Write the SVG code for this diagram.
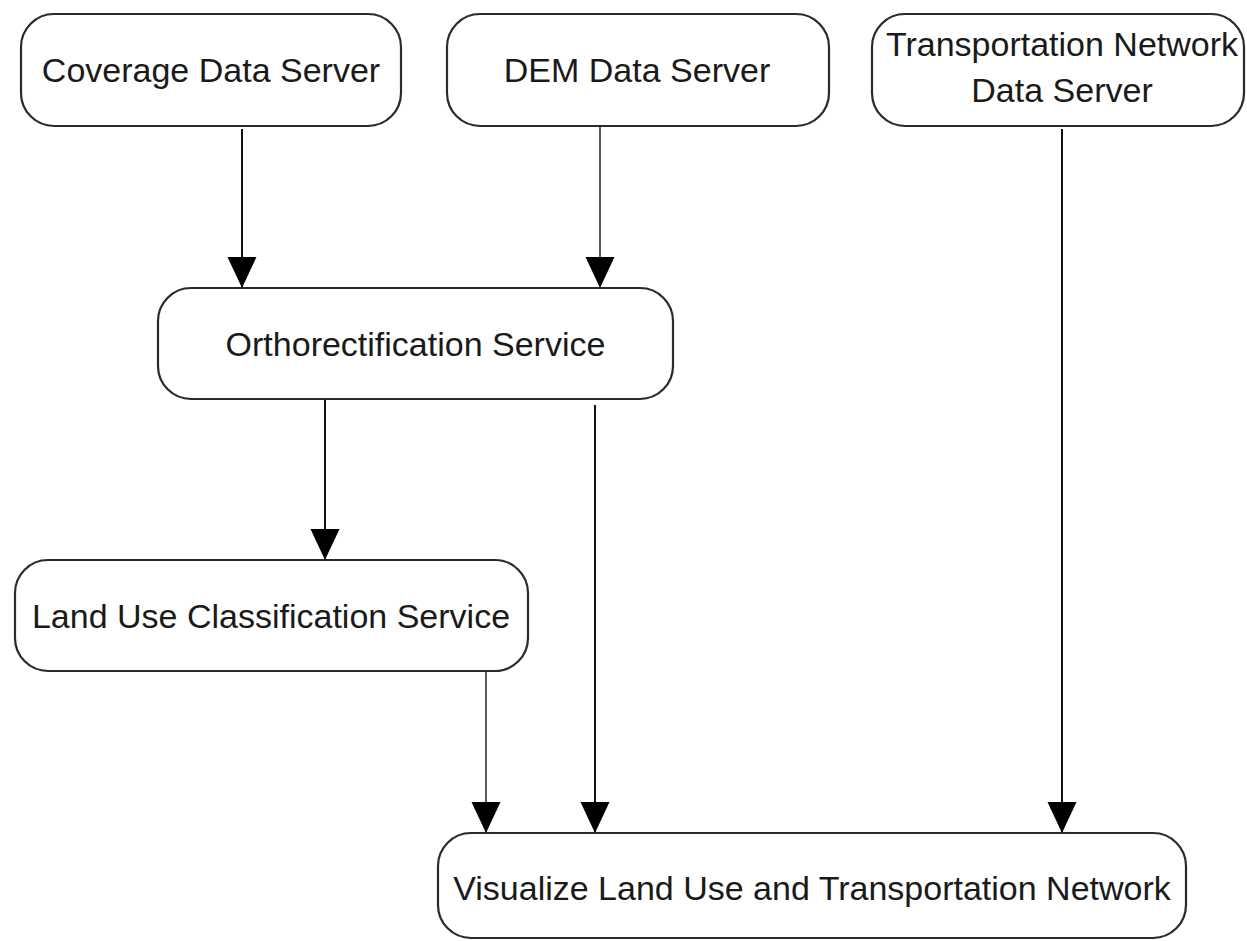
<svg xmlns="http://www.w3.org/2000/svg" width="1247" height="941" viewBox="0 0 1247 941">
  <style>
    .box { fill: #ffffff; stroke: #2a2a2a; stroke-width: 2.2; }
    .label { font-family: "Liberation Sans", Arial, Helvetica, sans-serif; font-size: 34px; fill: #1a1a1a; text-anchor: middle; }
    .flow { stroke: #111111; stroke-width: 2; fill: none; marker-end: url(#head); }
    .flow.thin { stroke: #333333; stroke-width: 1.6; }
  </style>
  <defs>
    <marker id="head" markerUnits="userSpaceOnUse" markerWidth="32" markerHeight="30" viewBox="0 -15 32 30" refX="31" refY="0" orient="auto">
      <path d="M0,-14.5 L31,0 L0,14.5 Z" fill="#000000"/>
    </marker>
  </defs>
  <rect width="1247" height="941" fill="#ffffff"/>

  <!-- connectors -->
  <g id="connectors">
    <line class="flow" x1="242" y1="129" x2="242" y2="288"/>
    <line class="flow thin" x1="600" y1="126" x2="600" y2="288"/>
    <line class="flow" x1="325" y1="399" x2="325" y2="560"/>
    <line class="flow" x1="595" y1="405" x2="595" y2="833"/>
    <line class="flow thin" x1="486" y1="671" x2="486" y2="833"/>
    <line class="flow" x1="1062" y1="129" x2="1062" y2="833"/>
  </g>

  <!-- nodes -->
  <g id="coverage-data-server">
    <rect class="box" x="21" y="14" width="380" height="112" rx="33" ry="33"/>
    <text class="label" x="211" y="82">Coverage Data Server</text>
  </g>
  <g id="dem-data-server">
    <rect class="box" x="447" y="14" width="382" height="112" rx="33" ry="33"/>
    <text class="label" x="637" y="82">DEM Data Server</text>
  </g>
  <g id="transportation-network-data-server">
    <rect class="box" x="872" y="14" width="372" height="112" rx="33" ry="33"/>
    <text class="label" x="1062" y="56">Transportation Network</text>
    <text class="label" x="1062" y="102">Data Server</text>
  </g>
  <g id="orthorectification-service">
    <rect class="box" x="158" y="288" width="515" height="111" rx="33" ry="33"/>
    <text class="label" x="415.5" y="356">Orthorectification Service</text>
  </g>
  <g id="land-use-classification-service">
    <rect class="box" x="15" y="560" width="513" height="111" rx="33" ry="33"/>
    <text class="label" x="271" y="628">Land Use Classification Service</text>
  </g>
  <g id="visualize-land-use">
    <rect class="box" x="438" y="833" width="748" height="105" rx="33" ry="33"/>
    <text class="label" x="812" y="900">Visualize Land Use and Transportation Network</text>
  </g>
</svg>
